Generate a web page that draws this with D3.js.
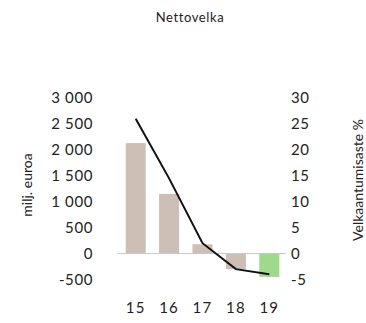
<!DOCTYPE html>
<html><head><meta charset="utf-8">
<script src="https://cdn.jsdelivr.net/npm/d3@7"></script>
<style>body{margin:0;background:#fff}svg{display:block}text{font-family:Lato,"Open Sans",sans-serif;fill:#222}</style>
</head><body>
<script>
const categories = ["15","16","17","18","19"];
const netDebt = [2130, 1150, 180, -300, -450];
const debtRatio = [26, 14.5, 2, -3, -4];
const leftTicks = [3000,2500,2000,1500,1000,500,0,-500];
const rightTicks = [30,25,20,15,10,5,0,-5];
const title = "Nettovelka";
const leftTitle = "milj. euroa";
const rightTitle = "Velkaantumisaste %";

const W=366,H=323;
const svg=d3.select("body").append("svg").attr("width",W).attr("height",H);
const x=d3.scaleBand().domain(categories).range([119,286]).paddingInner(0.4).paddingOuter(0.2);
const yL=d3.scaleLinear().domain([-500,3000]).range([279.5,98]);
const yR=d3.scaleLinear().domain([-5,30]).range([279.5,98]);

svg.append("text").attr("x",190).attr("y",22).attr("text-anchor","middle").attr("font-size",13).attr("letter-spacing",0.6).attr("fill","#333").text(title);

svg.selectAll("rect.bar").data(netDebt).join("rect").attr("class","bar")
 .attr("x",(d,i)=>x(categories[i])).attr("width",x.bandwidth())
 .attr("y",d=>yL(Math.max(0,d))).attr("height",d=>Math.abs(yL(d)-yL(0)))
 .attr("fill",(d,i)=>i===categories.length-1?"#9fd98c":"#cdbfb5");

svg.append("line").attr("x1",118).attr("x2",286).attr("y1",yL(0)).attr("y2",yL(0)).attr("stroke","#c8c8c8").attr("stroke-width",1);

const line=d3.line().x((d,i)=>x(categories[i])+x.bandwidth()/2).y(d=>yR(d));
svg.append("path").attr("d",line(debtRatio)).attr("fill","none").attr("stroke","#111").attr("stroke-width",2);

function style(g){
  g.select(".domain").remove();
  g.selectAll("text").attr("font-size",15).attr("font-family","Lato,sans-serif").attr("fill","#2a2a2a").attr("letter-spacing",0.6);
}
const axL=d3.axisLeft(yL).tickValues(leftTicks).tickSize(0).tickPadding(0).tickFormat(d=>d3.format(",")(d).replace(/,/g," ").replace("−","-"));
svg.append("g").attr("transform","translate(93,0)").call(axL).call(style);

const axR=d3.axisRight(yR).tickValues(rightTicks).tickSize(0).tickPadding(0).tickFormat(d=>String(d));
svg.append("g").attr("transform","translate(291,0)").call(axR).call(style);

const axB=d3.axisBottom(x).tickSize(0).tickPadding(0);
const gB=svg.append("g").attr("transform","translate(0,302)").call(axB).call(style);
gB.selectAll("text").attr("letter-spacing",1.2);

svg.append("text").attr("transform","translate(32,185) rotate(-90)").attr("text-anchor","middle").attr("font-size",14).attr("fill","#2a2a2a").text(leftTitle);
svg.append("text").attr("transform","translate(363,180) rotate(-90)").attr("text-anchor","middle").attr("font-size",14).attr("fill","#2a2a2a").text(rightTitle);
</script>
</body></html>
